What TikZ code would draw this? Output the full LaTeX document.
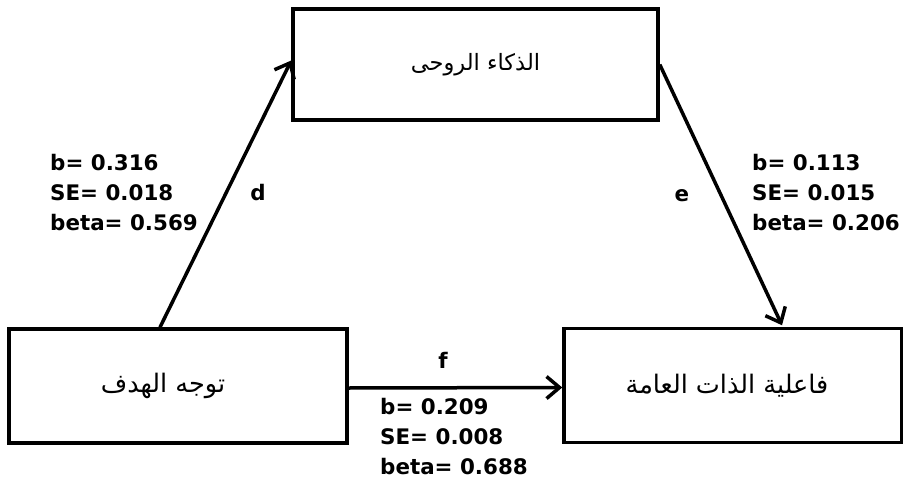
\documentclass[tikz,border=0pt]{standalone}
\usepackage{fontspec}
\setmainfont{DejaVu Sans}
\newfontfamily\arabicfont[Script=Arabic]{DejaVu Sans}
\TeXXeTstate=1
\usetikzlibrary{arrows.meta}

\begin{document}
\begin{tikzpicture}[x=1pt,y=-1pt,
  box/.style={draw, line width=3.5pt, inner sep=0pt,
    font=\arabicfont\fontsize{22.5}{26}\selectfont},
  bigtext/.style={font=\arabicfont\fontsize{25.5}{30}\selectfont},
  link/.style={line width=3.5pt,
    -{Straight Barb[length=13pt,width=22pt,line width=3.5pt]}},
  stats/.style={align=left, anchor=west, inner sep=0pt,
    font=\bfseries\fontsize{21.4}{30}\selectfont},
  tag/.style={inner sep=0pt, font=\bfseries\fontsize{21.4}{24}\selectfont}]
\useasboundingbox (0,0) rectangle (903,479);

% variables
\node[box, minimum width=365pt, minimum height=111pt] (spirit) at (475.5,64.5)
  {\beginR الذكاء الروحى\endR};
\node[box, bigtext, minimum width=338pt, minimum height=114pt] (goal) at (178,386)
  {\hspace*{-30pt}\beginR توجه الهدف\endR};
\node[box, bigtext, minimum width=338pt, minimum height=114pt] (efficacy) at (733,385.5)
  {\hspace*{-12pt}\beginR فاعلية الذات العامة\endR};

% paths
\draw[link] ([xshift=-18pt]goal.north) -- ([yshift=4pt]spirit.west);
\draw[link] (spirit.east) -- ([xshift=49pt,yshift=1.5pt]efficacy.north);
\draw[link] ([yshift=-2pt]goal.east) -- ([yshift=-2pt]efficacy.west);

% path labels
\node[tag] (dlab) at (258,193) {d};
\node[tag] (elab) at (682,196) {e};
\node[tag] (flab) at (443,360) {f};

% coefficients
\node[stats] (dstats) at (50,193) {b= 0.316\\SE= 0.018\\beta= 0.569};
\node[stats] (estats) at (752,193) {b= 0.113\\SE= 0.015\\beta= 0.206};
\node[stats] (fstats) at (380,437) {b= 0.209\\SE= 0.008\\beta= 0.688};
\end{tikzpicture}
\end{document}
